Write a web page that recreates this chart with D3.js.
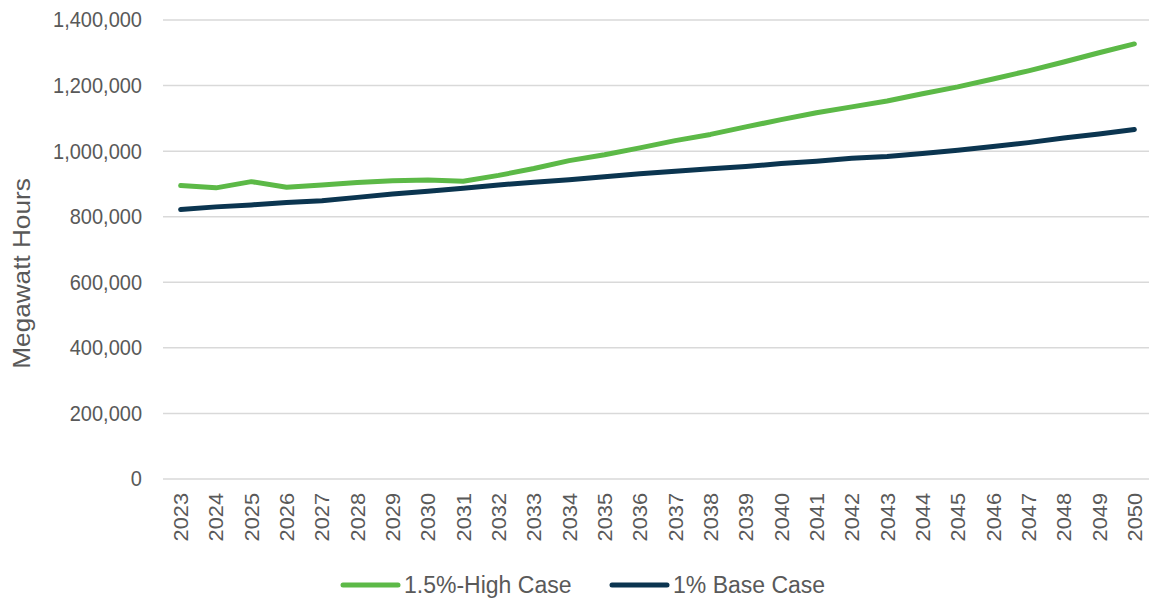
<!DOCTYPE html>
<html>
<head>
<meta charset="utf-8">
<script src="https://cdn.jsdelivr.net/npm/d3@7"></script>
<style>
  html, body { margin: 0; padding: 0; background: #fff; }
  svg { display: block; font-family: "Liberation Sans", Arial, sans-serif; }
</style>
</head>
<body>
<svg id="chart" width="1149" height="599"></svg>
<script>
// Annual energy forecast, MWh
const years = d3.range(2023, 2051).map(String);
const highCase = [
  895000, 888000, 907000, 890000, 897000, 904000, 910000, 912000, 908000, 926000,
  947000, 971000, 989000, 1010000, 1032000, 1051000, 1074000, 1096000, 1117000, 1135000,
  1153000, 1175000, 1196000, 1220000, 1245000, 1272000, 1300000, 1327000
];
const baseCase = [
  822000, 830000, 836000, 843000, 849000, 859000, 869000, 878000, 887000, 897000,
  905000, 913000, 922000, 931000, 939000, 946000, 953000, 962000, 969000, 978000,
  984000, 993000, 1003000, 1014000, 1026000, 1040000, 1052000, 1066000
];
const yTicks = [0, 200000, 400000, 600000, 800000, 1000000, 1200000, 1400000];
const seriesNames = ["1.5%-High Case", "1% Base Case"];
const seriesColors = ["#5cb947", "#0b3550"];

const svg = d3.select("#chart");
const W = 1149, H = 599;
const plot = { left: 163, right: 1152, top: 20, bottom: 479 };
const stretch = 1.09; // glyphs are slightly taller than wide

const x = d3.scalePoint().domain(years).range([plot.left, plot.right]).padding(0.5);
const y = d3.scaleLinear().domain([0, 1400000]).range([plot.bottom, plot.top]);

// Horizontal gridlines
svg.append("g")
  .selectAll("line")
  .data(yTicks)
  .join("line")
  .attr("x1", plot.left).attr("x2", W)
  .attr("y1", d => y(d)).attr("y2", d => y(d))
  .attr("stroke", "#d9d9d9").attr("stroke-width", 1.5);

// Y axis labels
const yAxis = d3.axisLeft(y).tickValues(yTicks).tickSize(0).tickPadding(0)
  .tickFormat(d3.format(","));
svg.append("g")
  .attr("transform", `translate(${plot.left - 21},0)`)
  .call(yAxis)
  .call(g => g.select(".domain").remove())
  .call(g => g.selectAll("text")
    .attr("font-size", 20).attr("fill", "#595959")
    .attr("font-family", "Liberation Sans, Arial, sans-serif")
    .attr("transform", `scale(1,${stretch})`));

// X axis labels, rotated
const xAxis = d3.axisBottom(x).tickSize(0).tickPadding(0);
svg.append("g")
  .attr("transform", `translate(0,${plot.bottom})`)
  .call(xAxis)
  .call(g => g.select(".domain").remove())
  .call(g => g.selectAll("text")
    .attr("font-size", 20).attr("fill", "#595959")
    .attr("font-family", "Liberation Sans, Arial, sans-serif")
    .attr("text-anchor", "end")
    .attr("transform", `rotate(-90) translate(-14,0) scale(${stretch},1)`)
    .attr("x", 0).attr("y", 0).attr("dy", "0.35em"));

// Axis title
svg.append("text")
  .attr("transform", `translate(30,${(plot.top + plot.bottom) / 2 + 24}) rotate(-90) scale(${stretch},1)`)
  .attr("text-anchor", "middle")
  .attr("font-size", 24).attr("fill", "#595959")
  .text("Megawatt Hours");

// Lines
const line = d3.line().x((d, i) => x(years[i])).y(d => y(d));
[highCase, baseCase].forEach((s, k) => {
  svg.append("path")
    .datum(s)
    .attr("d", line)
    .attr("fill", "none")
    .attr("stroke", seriesColors[k])
    .attr("stroke-width", 5)
    .attr("stroke-linejoin", "round")
    .attr("stroke-linecap", "round");
});

// Legend
const legendX = [343, 612];
const legendY = 585;
seriesNames.forEach((name, k) => {
  const g = svg.append("g").attr("transform", `translate(${legendX[k]},${legendY})`);
  g.append("line").attr("x1", 0).attr("x2", 55).attr("y1", 0).attr("y2", 0)
    .attr("stroke", seriesColors[k]).attr("stroke-width", 5).attr("stroke-linecap", "round");
  g.append("text").attr("x", 61).attr("dy", "0.35em")
    .attr("font-size", 23).attr("fill", "#595959").text(name);
});
</script>
</body>
</html>
